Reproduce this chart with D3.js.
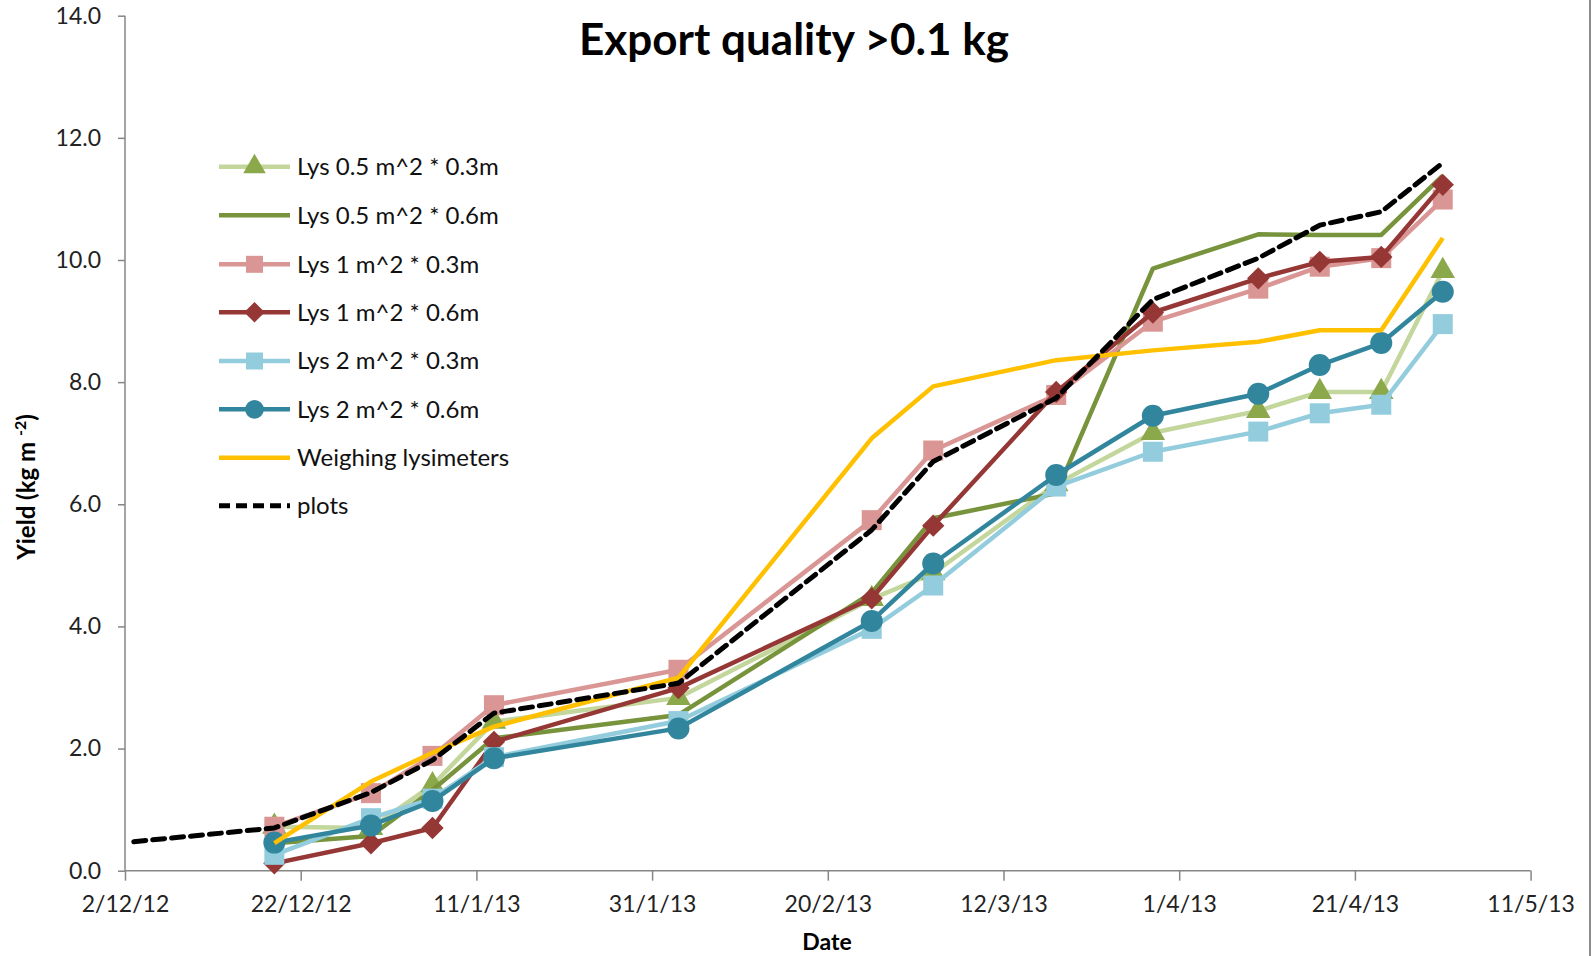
<!DOCTYPE html>
<html><head><meta charset="utf-8">
<script src="https://cdn.jsdelivr.net/npm/d3@7"></script>
<style>
html,body{margin:0;padding:0;background:#fff;}
svg{display:block;font-family:Lato, "Open Sans", sans-serif;}
</style></head>
<body><svg id="chart" width="1593" height="956"></svg>
<script>
// ---- data ----
const lysDates = ["2012-12-19","2012-12-30","2013-01-06","2013-01-13","2013-02-03","2013-02-25","2013-03-04","2013-03-18","2013-03-29","2013-04-10","2013-04-17","2013-04-24","2013-05-01"];
const plotDates = ["2012-12-03","2012-12-19","2012-12-30","2013-01-06","2013-01-13","2013-02-03","2013-02-25","2013-03-04","2013-03-18","2013-03-29","2013-04-10","2013-04-17","2013-04-24","2013-05-01"];
const lys05_03 = [0.72,0.70,1.40,2.44,2.83,4.45,4.87,6.33,7.17,7.53,7.84,7.84,9.82];
const lys05_06 = [0.45,0.57,1.32,2.17,2.55,4.55,5.77,6.18,9.86,10.42,10.41,10.41,11.38];
const lys1_03  = [0.72,1.27,1.88,2.71,3.29,5.74,6.88,7.79,8.99,9.53,9.89,10.03,10.99];
const lys1_06  = [0.12,0.45,0.70,2.11,2.99,4.46,5.65,7.84,9.14,9.70,9.97,10.05,11.23];
const lys2_03  = [0.26,0.86,1.18,1.86,2.45,3.96,4.67,6.29,6.86,7.19,7.49,7.63,8.95];
const lys2_06  = [0.46,0.74,1.14,1.84,2.33,4.09,5.03,6.48,7.45,7.81,8.28,8.64,9.48];
const weighing = [0.45,1.46,1.93,2.36,3.16,7.08,7.93,8.36,8.52,8.66,8.85,8.85,10.36];
const plots    = [0.475,0.70,1.28,1.81,2.58,3.07,5.58,6.70,7.74,9.35,10.03,10.57,10.79,11.59];
const seriesNames = ["Lys 0.5 m^2 * 0.3m","Lys 0.5 m^2 * 0.6m","Lys 1 m^2 * 0.3m","Lys 1 m^2 * 0.6m","Lys 2 m^2 * 0.3m","Lys 2 m^2 * 0.6m","Weighing lysimeters","plots"];
const xTickDates = ["2012-12-02","2012-12-22","2013-01-11","2013-01-31","2013-02-20","2013-03-12","2013-04-01","2013-04-21","2013-05-11"];
const yTicks = [0,2,4,6,8,10,12,14];
const titleText = "Export quality >0.1 kg";

// ---- setup ----
const parse = d3.utcParse("%Y-%m-%d");
const svg = d3.select("#chart");
const x = d3.scaleUtc().domain([parse("2012-12-02"), parse("2013-05-11")]).range([125, 1530.6]);
const y = d3.scaleLinear().domain([0, 14]).range([870.7, 15.7]);
const axisColor = "#868686";

const series = [
  {name: seriesNames[0], dates: lysDates, vals: lys05_03, line: "#c3d69b", mark: "#8ba84b", shape: "tri", w: 4.5},
  {name: seriesNames[1], dates: lysDates, vals: lys05_06, line: "#77933c", mark: null, shape: null, w: 4.5},
  {name: seriesNames[2], dates: lysDates, vals: lys1_03, line: "#d99694", mark: "#d99694", shape: "sq", w: 4.5},
  {name: seriesNames[3], dates: lysDates, vals: lys1_06, line: "#953735", mark: "#953735", shape: "dia", w: 4.5},
  {name: seriesNames[4], dates: lysDates, vals: lys2_03, line: "#93cddd", mark: "#93cddd", shape: "sq", w: 4.5},
  {name: seriesNames[5], dates: lysDates, vals: lys2_06, line: "#31859c", mark: "#31859c", shape: "circ", w: 4.5},
  {name: seriesNames[6], dates: lysDates, vals: weighing, line: "#ffc000", mark: null, shape: null, w: 4.5},
  {name: seriesNames[7], dates: plotDates, vals: plots, line: "#000000", mark: null, shape: null, w: 5, dash: "12,7"}
];

// right border
svg.append("line").attr("x1",1590).attr("x2",1590).attr("y1",0).attr("y2",956)
  .attr("stroke","#8c8c8c").attr("stroke-width",2);

// axes
const yAxis = d3.axisLeft(y).tickValues(yTicks).tickFormat(d3.format(".1f")).tickSize(7).tickPadding(17);
const gy = svg.append("g").attr("transform","translate(125,0)").call(yAxis);
const xAxis = d3.axisBottom(x).tickValues(xTickDates.map(parse)).tickFormat(d3.utcFormat("%-d/%-m/%y")).tickSize(10).tickPadding(15);
const gx = svg.append("g").attr("transform","translate(0,870.7)").call(xAxis);
[gx, gy].forEach(g => {
  g.select(".domain").attr("stroke", axisColor).attr("stroke-width", 1.5);
  g.selectAll(".tick line").attr("stroke", axisColor).attr("stroke-width", 1.5);
  g.selectAll(".tick text").attr("fill", "#222").style("font-size", "23px").style("font-family", "Lato, sans-serif");
});
gx.select(".domain").attr("d", "M125,0H1530.6");
gy.select(".domain").attr("d", "M0,870.7V15.7");

// title & axis labels
svg.append("text").attr("x", 794).attr("y", 55).attr("text-anchor","middle")
  .style("font-size","44px").style("font-weight","bold").attr("fill","#000").text(titleText);
svg.append("text").attr("x", 827).attr("y", 950).attr("text-anchor","middle")
  .style("font-size","23px").style("font-weight","bold").attr("fill","#000").text("Date");
const yl = svg.append("text").attr("transform","translate(35,487) rotate(-90)").attr("text-anchor","middle")
  .style("font-size","24px").style("font-weight","bold").attr("fill","#000");
yl.append("tspan").text("Yield (kg m ");
yl.append("tspan").attr("dy",-9).style("font-size","16px").text("-2");
yl.append("tspan").attr("dy",9).text(")");

// marker drawing
function drawMarker(g, shape, cx, cy, color, size) {
  const s = size || 1;
  if (shape === "tri") {
    g.append("path").attr("d", d3.symbol().type(d3.symbolTriangle).size(260*s)()).attr("transform",`translate(${cx},${cy})`).attr("fill", color);
  } else if (shape === "sq") {
    g.append("rect").attr("x", cx-10*s).attr("y", cy-10*s).attr("width", 20*s).attr("height", 20*s).attr("fill", color);
  } else if (shape === "dia") {
    g.append("path").attr("d", d3.symbol().type(d3.symbolSquare).size(250*s)()).attr("transform",`translate(${cx},${cy}) rotate(45)`).attr("fill", color);
  } else if (shape === "circ") {
    g.append("circle").attr("cx", cx).attr("cy", cy).attr("r", 11*s).attr("fill", color);
  }
}

const lineGen = d3.line().x(d => x(d[0])).y(d => y(d[1]));
const plotG = svg.append("g");
series.forEach(s => {
  const pts = s.dates.map((d,i) => [parse(d), s.vals[i]]);
  const g = plotG.append("g");
  g.append("path").datum(pts).attr("d", lineGen).attr("fill","none")
    .attr("stroke", s.line).attr("stroke-width", s.w).attr("stroke-linejoin","round")
    .attr("stroke-dasharray", s.dash || null).attr("stroke-linecap", s.dash ? "round" : "butt");
  if (s.shape) pts.forEach(p => drawMarker(g, s.shape, x(p[0]), y(p[1]), s.mark));
});

// legend
const legY = [166.7, 215.3, 264.3, 312.3, 361, 409.3, 457.7, 505.7];
const leg = svg.append("g");
series.forEach((s,i) => {
  const yy = legY[i];
  leg.append("line").attr("x1", 219).attr("x2", 290).attr("y1", yy).attr("y2", yy)
    .attr("stroke", s.line).attr("stroke-width", s.w).attr("stroke-dasharray", s.dash ? "11,6" : null);
  if (s.shape) drawMarker(leg, s.shape, 254.5, yy, s.mark, 0.85);
  leg.append("text").attr("x", 297).attr("y", yy).attr("dy","0.35em")
    .style("font-size","24px").attr("fill","#111").text(s.name);
});
</script></body></html>
